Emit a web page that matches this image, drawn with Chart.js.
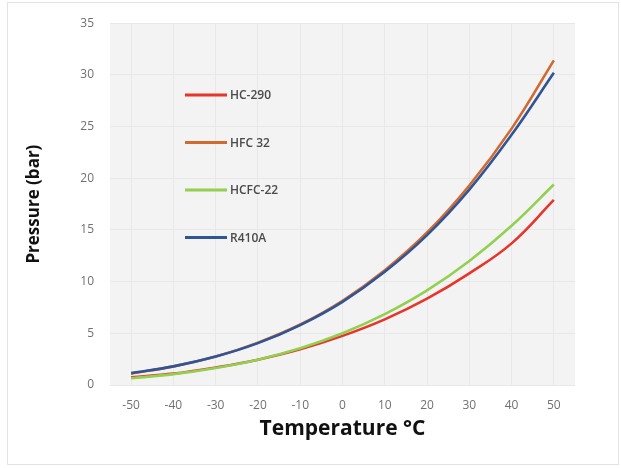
<!DOCTYPE html>
<html lang="en">
  <head>
    <meta charset="UTF-8" />
    <title>Pressure vs Temperature</title>
    <script src="https://cdn.jsdelivr.net/npm/chart.js"></script>
    <style>
      body {
        margin: 0;
        background: #fff;
        font-family: "Open Sans", Arial, sans-serif;
      }
      .frame {
        position: absolute;
        left: 7px;
        top: 2px;
        width: 612px;
        height: 463px;
        border: 1px solid #e3e3e3;
        box-sizing: border-box;
      }
      .wrap {
        position: absolute;
        left: 0;
        top: 0;
        width: 621px;
        height: 468px;
      }
    </style>
  </head>
  <body>
    <div class="frame"></div>
    <div class="wrap"><canvas id="lineChart"></canvas></div>

    <script>
      const temps = ["-50", "-40", "-30", "-20", "-10", "0", "10", "20", "30", "40", "50"];
      const hc290 = [0.75, 1.1, 1.7, 2.45, 3.45, 4.75, 6.35, 8.35, 10.8, 13.7, 17.9];
      const hfc32 = [1.1, 1.8, 2.75, 4.1, 5.85, 8.15, 11.1, 14.75, 19.3, 24.8, 31.4];
      const hcfc22 = [0.65, 1.05, 1.65, 2.45, 3.55, 5.0, 6.85, 9.15, 12.0, 15.4, 19.4];
      const r410a = [1.15, 1.8, 2.75, 4.05, 5.8, 8.05, 10.95, 14.5, 18.9, 24.2, 30.2];

      const FONT = "'Open Sans', Arial, sans-serif";

      const plotBg = {
        id: "plotBg",
        beforeDraw(chart) {
          const { ctx, chartArea: a } = chart;
          ctx.save();
          ctx.fillStyle = "#f3f3f3";
          ctx.fillRect(a.left, a.top, a.right - a.left, a.bottom - a.top);
          ctx.restore();
        }
      };

      // legend sits inside the plot, one entry per row
      const innerLegend = {
        id: "innerLegend",
        afterDatasetsDraw(chart) {
          const { ctx } = chart;
          const x = 185, y0 = 95, gap = 47.5;
          ctx.save();
          ctx.font = "600 12px " + FONT;
          ctx.textBaseline = "middle";
          chart.data.datasets.forEach((ds, i) => {
            const y = y0 + i * gap;
            ctx.strokeStyle = ds.borderColor;
            ctx.lineWidth = 3;
            ctx.beginPath();
            ctx.moveTo(x, y);
            ctx.lineTo(x + 42, y);
            ctx.stroke();
            ctx.fillStyle = "#4a4a4a";
            ctx.fillText(ds.label, x + 45, y + 1);
          });
          ctx.restore();
        }
      };

      function makeSet(label, data, color, order) {
        return {
          label: label,
          data: data,
          borderColor: color,
          backgroundColor: color,
          borderWidth: 2.6,
          pointRadius: 0,
          tension: 0.4,
          fill: false,
          order: order
        };
      }

      new Chart(document.getElementById("lineChart"), {
        type: "line",
        data: {
          labels: temps,
          datasets: [
            makeSet("HC-290", hc290, "#e8352b", 4),
            makeSet("HFC 32", hfc32, "#d2692f", 3),
            makeSet("HCFC-22", hcfc22, "#92d050", 2),
            makeSet("R410A", r410a, "#2f5597", 1)
          ]
        },
        options: {
          responsive: true,
          maintainAspectRatio: false,
          animation: false,
          layout: { padding: { top: 18, right: 46, bottom: 22, left: 20 } },
          plugins: {
            legend: { display: false },
            tooltip: { enabled: false }
          },
          scales: {
            x: {
              offset: true,
              grid: { color: "#e8e8e8", offset: false, drawTicks: false },
              border: { display: false },
              ticks: { color: "#707070", font: { size: 12, family: FONT }, padding: 13, maxRotation: 0 },
              title: {
                display: true,
                text: "Temperature °C",
                color: "#111",
                font: { size: 21, weight: "bold", family: FONT },
                padding: { top: 0 }
              },
              afterFit(s) { s.height = 61; }
            },
            y: {
              min: 0,
              max: 35,
              grid: { color: "#e8e8e8", drawTicks: false },
              border: { display: false },
              ticks: { stepSize: 5, color: "#707070", font: { size: 12, family: FONT }, padding: 16 },
              title: {
                display: true,
                text: "Pressure (bar)",
                color: "#111",
                font: { size: 17, weight: "bold", family: FONT }
              },
              afterFit(s) { s.width = 90; }
            }
          }
        },
        plugins: [plotBg, innerLegend]
      });
    </script>
  </body>
</html>
